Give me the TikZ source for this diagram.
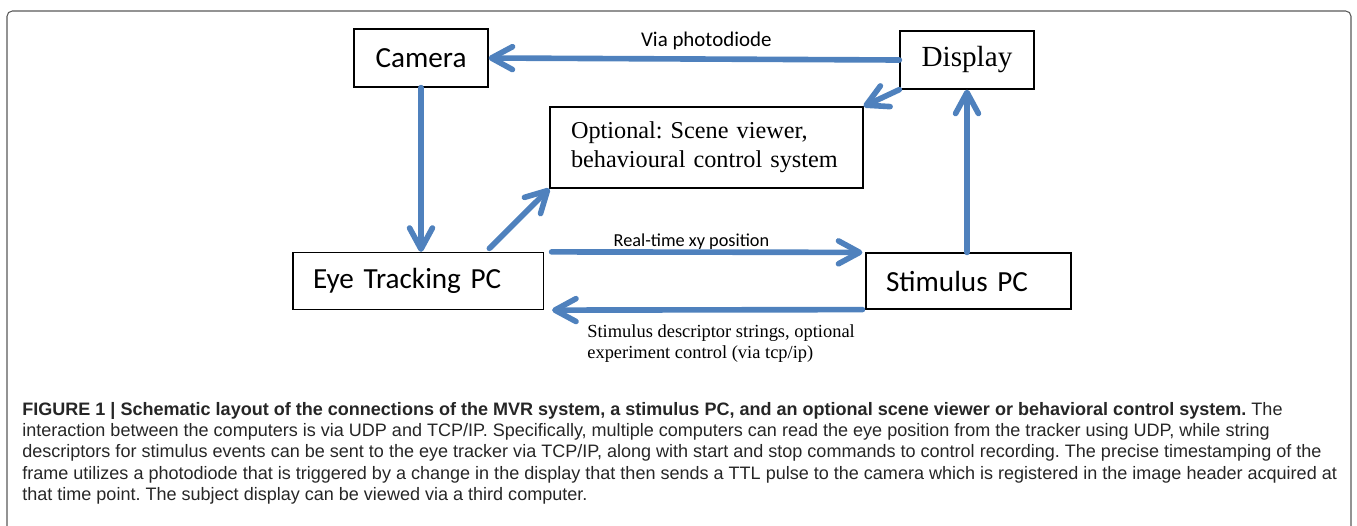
\documentclass[tikz,border=0pt]{standalone}
\usepackage{fontspec}
\setmainfont{Liberation Serif}
\newfontfamily\calibri{Carlito}
\newfontfamily\helv{Liberation Sans}
\usetikzlibrary{arrows.meta}
\definecolor{linkblue}{RGB}{79,129,189}
\frenchspacing
\newcommand\unitfont{\calibri\fontsize{16.6}{20}\selectfont}
\newcommand\dispfont{\fontsize{16.6}{20}\selectfont}
\newcommand\optfont{\fontsize{13.8}{16.4}\selectfont}
\newcommand\viafont{\calibri\fontsize{11.9}{14}\selectfont}
\newcommand\rtfont{\calibri\fontsize{10.4}{12.5}\selectfont}
\newcommand\descfont{\fontsize{10.5}{11.9}\selectfont}
\newcommand\capfont{\helv\fontsize{10.26}{12}\selectfont}

\begin{document}
\begin{tikzpicture}[x=0.02cm,y=-0.02cm,
  unit/.style={draw, line width=0.7pt, inner xsep=0.4cm, inner ysep=0pt},
  flow/.style={draw=linkblue, line width=3.2pt, line cap=round,
    -{Straight Barb[length=12pt,width=13pt,round]}}]
\useasboundingbox (0,0) rectangle (1357,525);
\draw[black!65, line width=0.6pt, rounded corners=3pt] (7,11) rectangle (1351,600);

% boxes
\node[unit, font=\unitfont, minimum width=2.68cm, minimum height=1.16cm] (cam) at (421,58) {Camera};
\node[unit, font=\dispfont, minimum width=2.68cm, minimum height=1.16cm] (disp) at (967,60) {Display};
\node[unit, font=\optfont, inner xsep=0.42cm, text width=5.42cm, minimum height=1.62cm, align=left] (opt) at (706.5,147.5) {Optional: Scene viewer,\\behavioural control system};
\node[unit, font=\unitfont, text width=4.21cm, minimum height=1.14cm, align=left] (eye) at (418.25,281) {Eye Tracking PC};
\node[unit, font=\unitfont, text width=3.3cm, minimum height=1.12cm, align=left] (stim) at (968.5,281) {Stimulus PC};

% connections
\draw[flow] (disp.west) -- (cam.east) node[pos=0.47, anchor=base, yshift=7.4pt, inner sep=0pt, font=\viafont] (via) {Via photodiode};
\draw[flow] (disp.south west) -- (opt.north east);
\draw[flow] (cam.south) -- (cam.south |- eye.north);
\draw[flow] ([shift={(3.94cm,0.07cm)}]eye.north west) -- (opt.south west);
\draw[flow] ([xshift=0.15cm]eye.north east) -- ([xshift=-0.06cm]stim.north west) node[pos=0.45, anchor=base, yshift=3.4pt, inner sep=0pt, font=\rtfont] (rt) {Real-time xy position};
\draw[flow] ([xshift=-0.06cm]stim.south west) -- ([xshift=0.16cm]eye.south east);
\draw[flow] (disp.south |- stim.north) -- (disp.south);
\node[font=\descfont, align=left, anchor=north west, inner sep=0pt] (desc) at (587,324) {Stimulus descriptor strings, optional\\experiment control (via tcp/ip)};

% caption
\foreach \capline [count=\i] in {
  {\textbf{FIGURE 1 | Schematic layout of the connections of the MVR system, a stimulus PC, and an optional scene viewer or behavioral control system.} The},
  {interaction between the computers is via UDP and TCP/IP. Specifically, multiple computers can read the eye position from the tracker using UDP, while string},
  {descriptors for stimulus events can be sent to the eye tracker via TCP/IP, along with start and stop commands to control recording. The precise timestamping of the},
  {frame utilizes a photodiode that is triggered by a change in the display that then sends a TTL pulse to the camera which is registered in the image header acquired at},
  {that time point. The subject display can be viewed via a third computer.}}
  \node[font=\capfont, text=black!85, anchor=base west, inner sep=0pt] (cap\i) at (22,{415.5+21.2*(\i-1)}) {\capline};
\end{tikzpicture}
\end{document}
